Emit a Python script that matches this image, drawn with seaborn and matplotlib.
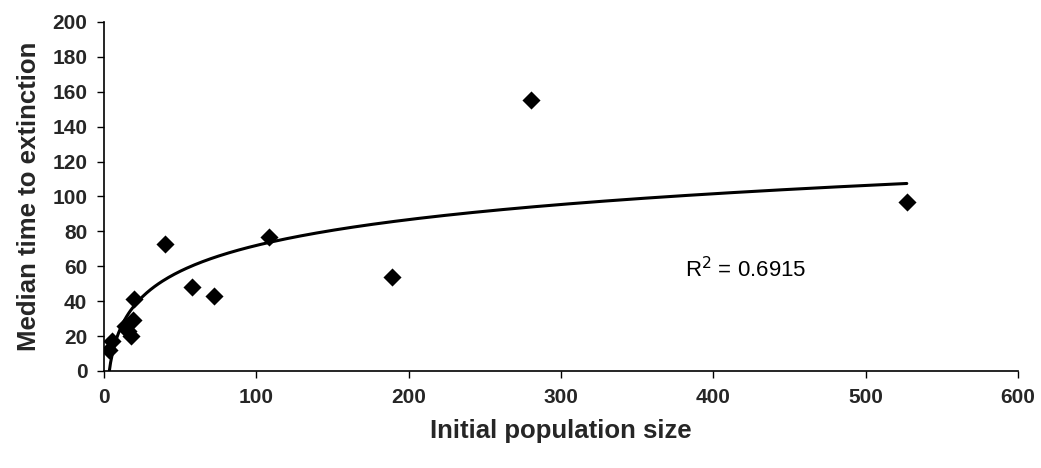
import numpy as np
import pandas as pd
import matplotlib
matplotlib.use("Agg")
import matplotlib.pyplot as plt
import seaborn as sns

# Data
pop_size = [3, 5, 14, 16, 18, 19, 20, 40, 58, 72, 108, 189, 280, 527]
median_time = [12, 17, 26, 23, 20, 29, 41, 73, 48, 43, 77, 54, 155, 97]
x_ticks = [0, 100, 200, 300, 400, 500, 600]
y_ticks = [0, 20, 40, 60, 80, 100, 120, 140, 160, 180, 200]
r2_label = "R$^2$ = 0.6915"

sns.set_theme(style="white")
plt.rcParams["font.family"] = ["Liberation Sans", "DejaVu Sans"]

df = pd.DataFrame({"x": pop_size, "y": median_time})

# Logarithmic trendline (as in a spreadsheet trendline)
coef = np.polyfit(np.log(df["x"]), df["y"], 1)
xs = np.linspace(min(pop_size), max(pop_size), 400)
trend = pd.DataFrame({"x": xs, "y": coef[0] * np.log(xs) + coef[1]})

fig = plt.figure(figsize=(10.41, 4.68), dpi=100)
ax = fig.add_axes([0.0999, 0.2073, 0.878, 0.746])

sns.lineplot(data=trend, x="x", y="y", ax=ax, color="black", linewidth=2.2)
sns.scatterplot(data=df, x="x", y="y", ax=ax, marker="D", s=85, color="black",
                edgecolor="black", linewidth=0, zorder=3)

ax.set_xlim(0, 600)
ax.set_ylim(0, 200)
ax.set_xticks(x_ticks)
ax.set_yticks(y_ticks)
ax.set_xticklabels([str(t) for t in x_ticks], fontsize=15, fontweight="bold")
ax.set_yticklabels([str(t) for t in y_ticks], fontsize=15, fontweight="bold")
ax.tick_params(axis="both", direction="out", length=5, width=1, color="black",
               bottom=True, left=True, pad=7)
for s in ["top", "right"]:
    ax.spines[s].set_visible(False)
for s in ["left", "bottom"]:
    ax.spines[s].set_color("black")
    ax.spines[s].set_linewidth(1.2)

ax.set_xlabel("Initial population size", fontsize=18.5, fontweight="bold", labelpad=9)
ax.set_ylabel("Median time to extinction", fontsize=18.5, fontweight="bold", labelpad=8)

ax.text(421, 58, r2_label, fontsize=16, color="black", ha="center", va="center")

fig.savefig("out.png", dpi=100)
